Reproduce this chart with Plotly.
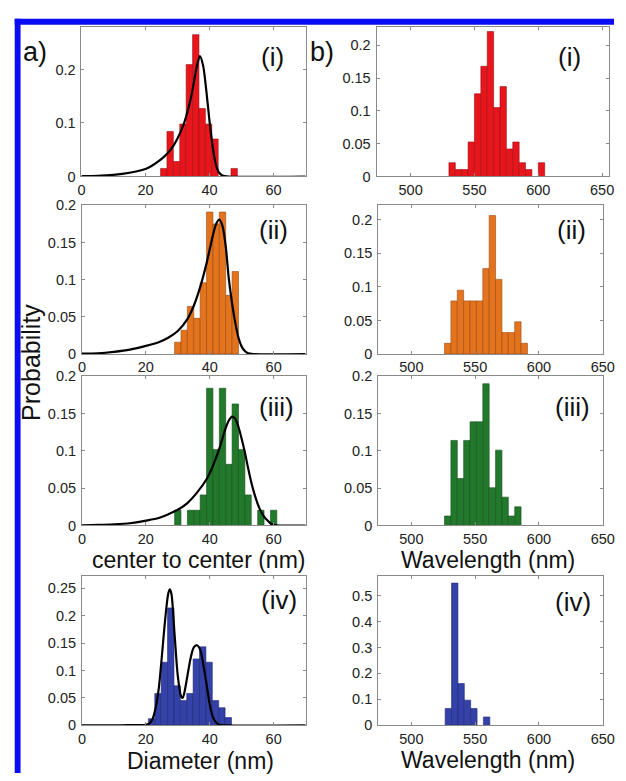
import plotly.graph_objects as go

# ---------------- data ----------------
# column a: center-to-center / diameter histograms (nm) + fitted curves
a1_x = [25.7, 27.7, 29.7, 31.7, 33.7, 35.7, 37.7, 39.7, 41.7, 47.7]
a1_y = [0.015, 0.084, 0.028, 0.098, 0.209, 0.265, 0.127, 0.098, 0.070, 0.015]
a1_fit_x = [0, 5, 10, 15, 20, 22, 24, 26, 28, 30, 32, 34, 35, 36, 37, 38, 39, 40, 41, 42, 43, 44, 46, 70]
a1_fit_y = [0.0005, 0.001, 0.003, 0.007, 0.014, 0.020, 0.028, 0.038, 0.051, 0.071, 0.099, 0.142, 0.172, 0.205, 0.225, 0.207, 0.160, 0.103, 0.055, 0.022, 0.007, 0.002, 0.0, 0.0]

a2_x = [30, 32, 34, 36, 38, 40, 42, 44, 46, 48]
a2_y = [0.016, 0.032, 0.064, 0.048, 0.096, 0.191, 0.175, 0.191, 0.079, 0.111]
a2_fit_x = [0, 5, 10, 15, 20, 24, 27, 30, 33, 35, 37, 39, 41, 42, 43, 44, 45, 46, 47, 48, 49, 50, 51, 52, 54, 70]
a2_fit_y = [0.0005, 0.001, 0.003, 0.006, 0.011, 0.016, 0.022, 0.031, 0.047, 0.065, 0.090, 0.122, 0.160, 0.175, 0.181, 0.172, 0.145, 0.100, 0.068, 0.042, 0.022, 0.010, 0.004, 0.001, 0.0, 0.0]

a3_x = [30, 34, 36, 38, 40, 42, 44, 46, 48, 50, 52, 56, 60]
a3_y = [0.0204, 0.0204, 0.0204, 0.041, 0.184, 0.102, 0.184, 0.082, 0.163, 0.102, 0.041, 0.0204, 0.0204]
a3_fit_x = [0, 5, 10, 15, 20, 24, 27, 30, 33, 36, 39, 41, 43, 45, 46, 47, 48, 49, 50, 51, 52, 53, 54, 55, 56, 57, 58, 59, 60, 62, 70]
a3_fit_y = [0.0003, 0.0007, 0.0015, 0.003, 0.0065, 0.010, 0.015, 0.021, 0.030, 0.044, 0.062, 0.080, 0.103, 0.131, 0.141, 0.146, 0.143, 0.132, 0.116, 0.098, 0.077, 0.058, 0.042, 0.029, 0.019, 0.012, 0.007, 0.003, 0.001, 0.0, 0.0]

a4_x = [21.8, 23.8, 25.8, 27.8, 29.8, 31.8, 33.8, 35.8, 37.8, 39.8, 41.8, 43.8, 45.8]
a4_y = [0.012, 0.058, 0.115, 0.214, 0.072, 0.045, 0.058, 0.121, 0.143, 0.115, 0.045, 0.032, 0.014]
a4_fit_x = [0, 12, 18, 20, 21, 22, 23, 24, 25, 26, 27, 27.5, 28, 29, 30, 31, 31.5, 32, 33, 34, 35, 36, 37, 38, 39, 40, 41, 42, 43, 45, 70]
a4_fit_y = [0.0, 0.0, 0.0005, 0.001, 0.003, 0.010, 0.030, 0.065, 0.125, 0.190, 0.240, 0.248, 0.240, 0.165, 0.090, 0.053, 0.050, 0.058, 0.090, 0.122, 0.142, 0.146, 0.138, 0.110, 0.075, 0.038, 0.015, 0.005, 0.001, 0.0, 0.0]

# column b: plasmon wavelength histograms (nm)
b1_x = [532.5, 537.5, 542.5, 547.5, 552.5, 557.5, 562.5, 567.5, 572.5, 577.5, 582.5, 587.5, 592.5, 602.5]
b1_y = [0.021, 0.0105, 0.0105, 0.0526, 0.126, 0.168, 0.221, 0.105, 0.137, 0.042, 0.0526, 0.021, 0.0105, 0.021]

b2_x = [528.5, 533.5, 538.5, 543.5, 548.5, 553.5, 558.5, 563.5, 568.5, 573.5, 578.5, 583.5, 588.5]
b2_y = [0.016, 0.079, 0.095, 0.079, 0.079, 0.079, 0.127, 0.206, 0.111, 0.032, 0.032, 0.048, 0.016]

b3_x = [528.5, 533.5, 538.5, 543.5, 548.5, 553.5, 558.5, 563.5, 568.5, 573.5, 578.5, 583.5]
b3_y = [0.0127, 0.114, 0.063, 0.114, 0.139, 0.139, 0.190, 0.0506, 0.101, 0.038, 0.0127, 0.025]

b4_x = [529, 534, 539, 544, 549, 559]
b4_y = [0.0645, 0.548, 0.161, 0.097, 0.0645, 0.032]

panel_labels = ["(i)", "(ii)", "(iii)", "(iv)"]
a_xticks = [0, 20, 40, 60]
b_xticks = [500, 550, 600, 650]

# ---------------- layout helpers ----------------
W, H = 626, 781
def fx(p):
    return p / W
def fy(p):
    return 1 - p / H

RED, ORANGE, GREEN, BLUE = "#e8161c", "#e4731e", "#23792b", "#3441a8"
EDGE = {RED: "#9a1014", ORANGE: "#9a4a12", GREEN: "#164f1c", BLUE: "#1f2870"}
FONT = "Liberation Sans, Arial, sans-serif"

panels = [
    # column a
    dict(x=a1_x, y=a1_y, w=2.0, fx_=a1_fit_x, fy_=a1_fit_y, c=RED, xd=(79.5, 309.5), yd=(19, 172), xr=[0, 70], yr=[0, 0.28], yt=[0, 0.1, 0.2], xt=a_xticks),
    dict(x=a2_x, y=a2_y, w=2.0, fx_=a2_fit_x, fy_=a2_fit_y, c=ORANGE, xd=(80, 309.5), yd=(201.5, 353.3), xr=[0, 70], yr=[0, 0.2], yt=[0, 0.05, 0.1, 0.15, 0.2], xt=a_xticks),
    dict(x=a3_x, y=a3_y, w=2.0, fx_=a3_fit_x, fy_=a3_fit_y, c=GREEN, xd=(80, 309.5), yd=(376, 528.3), xr=[0, 70], yr=[0, 0.2], yt=[0, 0.05, 0.1, 0.15, 0.2], xt=a_xticks),
    dict(x=a4_x, y=a4_y, w=2.0, fx_=a4_fit_x, fy_=a4_fit_y, c=BLUE, xd=(80, 309.5), yd=(580, 732.3), xr=[0, 70], yr=[0, 0.272], yt=[0, 0.05, 0.1, 0.15, 0.2, 0.25], xt=a_xticks),
    # column b
    dict(x=b1_x, y=b1_y, w=5.0, c=RED, xd=(382.3, 621.3), yd=(19, 172), xr=[473.3, 655.7], yr=[0, 0.2285], yt=[0, 0.05, 0.1, 0.15, 0.2], xt=b_xticks),
    dict(x=b2_x, y=b2_y, w=5.0, c=ORANGE, xd=(384, 614.7), yd=(201.5, 353.3), xr=[474, 650.2], yr=[0, 0.221], yt=[0, 0.05, 0.1, 0.15, 0.2], xt=b_xticks),
    dict(x=b3_x, y=b3_y, w=5.0, c=GREEN, xd=(384, 614.7), yd=(376, 528.3), xr=[474, 650.2], yr=[0, 0.2], yt=[0, 0.05, 0.1, 0.15, 0.2], xt=b_xticks),
    dict(x=b4_x, y=b4_y, w=5.0, c=BLUE, xd=(384, 614.7), yd=(580, 732.3), xr=[474, 650.2], yr=[0, 0.575], yt=[0, 0.1, 0.2, 0.3, 0.4, 0.5], xt=b_xticks),
]

fig = go.Figure()
layout = {}
for i, p in enumerate(panels, start=1):
    xa = "x" if i == 1 else f"x{i}"
    ya = "y" if i == 1 else f"y{i}"
    fig.add_trace(go.Bar(x=p["x"], y=p["y"], width=p["w"], xaxis=xa, yaxis=ya,
                         marker=dict(color=p["c"], line=dict(color=EDGE[p["c"]], width=0.6)),
                         showlegend=False))
    if "fx_" in p:
        fig.add_trace(go.Scatter(x=p["fx_"], y=p["fy_"], xaxis=xa, yaxis=ya, mode="lines",
                                 line=dict(color="black", width=2.2, shape="spline", smoothing=0.8),
                                 showlegend=False))
    axcommon = dict(showline=True, linecolor="#8a8a8a", linewidth=1, mirror="ticks",
                    ticks="inside", ticklen=3, tickcolor="#8a8a8a", showgrid=False,
                    zeroline=False, tickfont=dict(family=FONT, size=14.5, color="#222"),
                    fixedrange=True, ticklabeloverflow="allow")
    layout["xaxis" if i == 1 else f"xaxis{i}"] = dict(
        domain=[fx(p["xd"][0]), fx(p["xd"][1])], range=p["xr"], anchor=ya,
        tickvals=p["xt"], ticklabelstandoff=0, **axcommon)
    layout["yaxis" if i == 1 else f"yaxis{i}"] = dict(
        domain=[fy(p["yd"][1]), fy(p["yd"][0])], range=p["yr"], anchor=xa,
        tickvals=p["yt"], ticklabelstandoff=2, **axcommon)

ann = []
# panel numbers
a_lab_pos = [(276, 50), (277, 227), (280, 407), (282, 604)]
b_lab_pos = [(580, 50), (582, 227), (583, 407), (584, 606)]
for lab, (x, y) in zip(panel_labels, a_lab_pos):
    ann.append(dict(text=lab, x=fx(x), y=fy(y), xref="paper", yref="paper", showarrow=False,
                    xanchor="center", yanchor="middle", font=dict(family=FONT, size=26, color="#111")))
for lab, (x, y) in zip(panel_labels, b_lab_pos):
    ann.append(dict(text=lab, x=fx(x), y=fy(y), xref="paper", yref="paper", showarrow=False,
                    xanchor="center", yanchor="middle", font=dict(family=FONT, size=26, color="#111")))
# column letters
for txt, x in [("a)", 32), ("b)", 326)]:
    ann.append(dict(text=txt, x=fx(x), y=fy(45), xref="paper", yref="paper", showarrow=False,
                    xanchor="center", yanchor="middle", font=dict(family=FONT, size=27, color="#111")))
# y title
ann.append(dict(text="Probability", x=fx(27), y=fy(362), xref="paper", yref="paper", showarrow=False,
                textangle=-90, xanchor="center", yanchor="middle", font=dict(family=FONT, size=25, color="#111")))
# x titles
for txt, x, y in [("center to center (nm)", 200, 564), ("Wavelength (nm)", 497, 564),
                  ("Diameter (nm)", 202, 769), ("Wavelength (nm)", 497, 768)]:
    ann.append(dict(text=txt, x=fx(x), y=fy(y), xref="paper", yref="paper", showarrow=False,
                    xanchor="center", yanchor="middle", font=dict(family=FONT, size=23, color="#111")))

# blue frame (top and left edges)
shapes = [
    dict(type="rect", xref="paper", yref="paper", x0=fx(11), x1=1.0, y0=fy(17), y1=fy(11),
         fillcolor="#0a0cf5", line=dict(width=0)),
    dict(type="rect", xref="paper", yref="paper", x0=fx(11), x1=fx(17), y0=0.0, y1=fy(11),
         fillcolor="#0a0cf5", line=dict(width=0)),
]

fig.update_layout(width=W, height=H, margin=dict(l=0, r=0, t=0, b=0),
                  paper_bgcolor="white", plot_bgcolor="white",
                  annotations=ann, shapes=shapes, **layout)

fig.write_html("out.html", config={"displayModeBar": False},
               post_script="document.body.style.margin='0';document.body.style.padding='0';"
                           "document.documentElement.style.overflow='hidden';")
